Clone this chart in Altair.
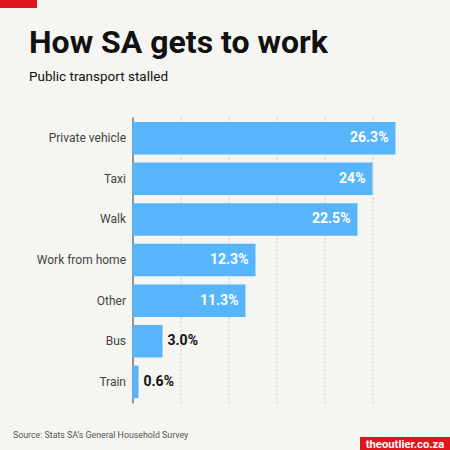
import altair as alt
import pandas as pd

# Share of workers by main mode of transport (%)
modes = ["Private vehicle", "Taxi", "Walk", "Work from home", "Other", "Bus", "Train"]
shares = [26.3, 24.0, 22.5, 12.3, 11.3, 3.0, 0.6]
labels = ["26.3%", "24%", "22.5%", "12.3%", "11.3%", "3.0%", "0.6%"]
grid_values = [4.8, 9.6, 14.4, 19.2, 24.0]

df = pd.DataFrame({"mode": modes, "share": shares, "label": labels})

BG = "#f5f5f1"
BAR = "#57b5fb"
RED = "#e0161e"
FONT = "Roboto"

W, H = 317.5, 286

x = alt.X(
    "share:Q",
    scale=alt.Scale(domain=[0, 31.75], nice=False),
    axis=alt.Axis(
        values=grid_values, grid=True, gridDash=[2, 2], gridColor="#c8c8c8",
        gridWidth=1, labels=False, ticks=False, domain=False, title=None,
    ),
)
y = alt.Y(
    "mode:N",
    sort=modes,
    scale=alt.Scale(paddingInner=0.2, paddingOuter=0.12),
    axis=alt.Axis(
        title=None, ticks=False, domain=True, domainColor="#555555",
        domainWidth=1.2, labelFont=FONT, labelFontSize=12, labelColor="#444444",
        labelPadding=7,
    ),
)

bars = alt.Chart(df).mark_bar(color=BAR).encode(x=x, y=y)

inside = alt.Chart(df).transform_filter("datum.share > 5").mark_text(
    align="right", baseline="middle", dx=-7, font=FONT, fontSize=14,
    fontWeight="bold", color="white",
).encode(x="share:Q", y=alt.Y("mode:N", sort=modes), text="label:N")

outside = alt.Chart(df).transform_filter("datum.share <= 5").mark_text(
    align="left", baseline="middle", dx=5, font=FONT, fontSize=14,
    fontWeight="bold", color="#111111",
).encode(x="share:Q", y=alt.Y("mode:N", sort=modes), text="label:N")

one = pd.DataFrame({"k": [0]})

title = alt.Chart(one).mark_text(
    align="left", baseline="alphabetic", font=FONT, fontSize=32,
    fontWeight="bold", color="#111111",
).encode(x=alt.value(-103.5), y=alt.value(-64), text=alt.value("How SA gets to work"))

subtitle = alt.Chart(one).mark_text(
    align="left", baseline="alphabetic", font=FONT, fontSize=13.5, color="#111111",
).encode(x=alt.value(-103.5), y=alt.value(-36), text=alt.value("Public transport stalled"))

source = alt.Chart(one).mark_text(
    align="left", baseline="alphabetic", font=FONT, fontSize=8.8, color="#555555",
).encode(x=alt.value(-119.5), y=alt.value(321),
         text=alt.value("Source: Stats SA’s General Household Survey"))

corner = alt.Chart(one).mark_rect(color=RED).encode(
    x=alt.value(-132.5), x2=alt.value(-95.5), y=alt.value(-117), y2=alt.value(-109)
)

badge = alt.Chart(one).mark_rect(color=RED).encode(
    x=alt.value(227.5), x2=alt.value(317.5), y=alt.value(320), y2=alt.value(333)
)

badge_text = alt.Chart(one).mark_text(
    align="center", baseline="alphabetic", font=FONT, fontSize=11.3,
    fontWeight="bold", color="white",
).encode(x=alt.value(272.5), y=alt.value(330.5), text=alt.value("theoutlier.co.za"))

chart = alt.layer(
    bars, inside, outside, title, subtitle, source, corner, badge, badge_text
).properties(
    width=W, height=H,
    autosize=alt.AutoSizeParams(type="none"),
    padding={"left": 132.5, "top": 117, "right": 0, "bottom": 47},
).configure(background=BG).configure_view(stroke=None)

chart.save("out.html", embed_options={"renderer": "svg", "actions": False})
